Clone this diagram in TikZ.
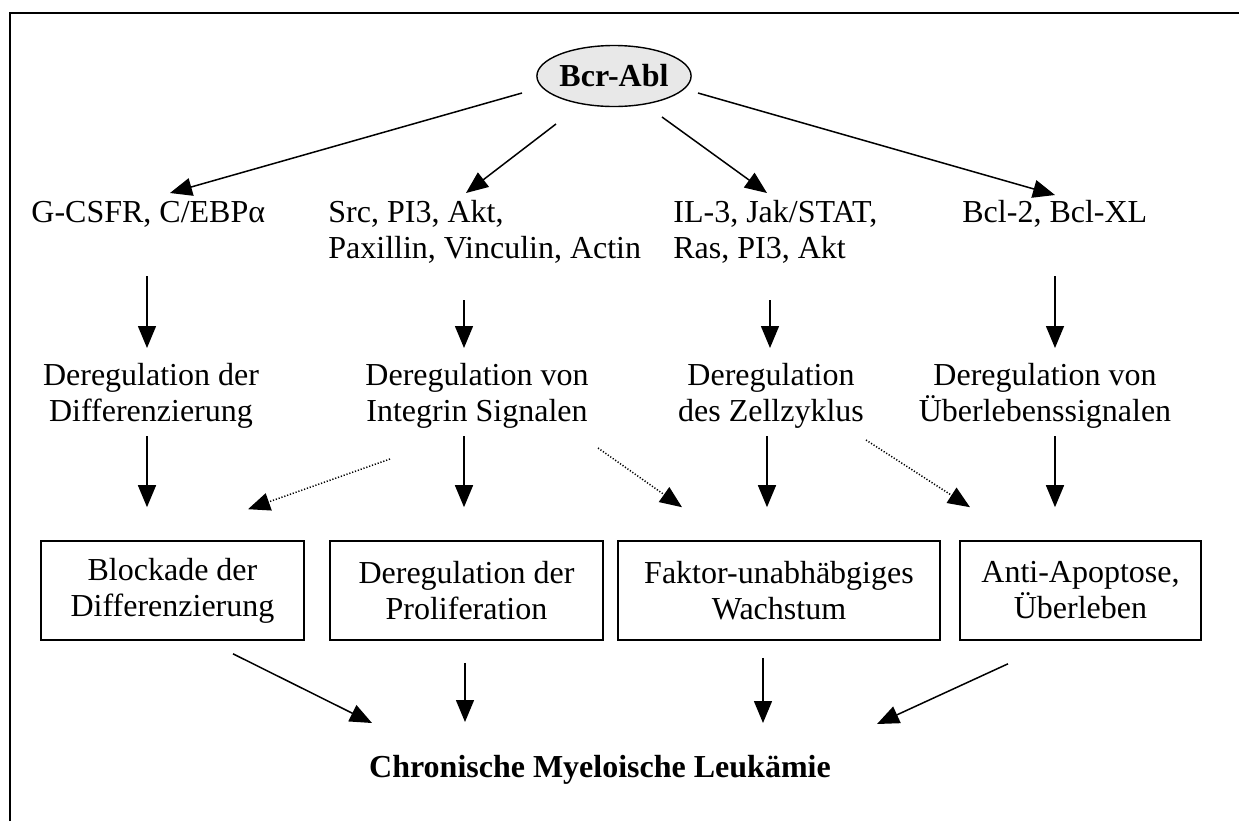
\documentclass[tikz,border=0pt]{standalone}
\usepackage{fontspec}
\setmainfont{Liberation Serif}
\usetikzlibrary{arrows.meta,shapes.geometric,shadows}
\tikzset{
  lbl/.style={font=\fontsize{16}{18}\selectfont, inner sep=0pt, align=center},
  lblL/.style={font=\fontsize{16}{18}\selectfont, inner sep=0pt, align=left, anchor=west},
  boxnode/.style={draw, fill=white, line width=0.8pt, inner sep=0pt, font=\fontsize{16}{18}\selectfont, align=center,
    general shadow={fill=black!55, shadow xshift=0.7pt, shadow yshift=-0.7pt}},
  bcrnode/.style={ellipse, draw, line width=0.7pt, fill=black!9, inner sep=0pt, minimum width=76pt, minimum height=30.5pt, font=\fontsize{16}{18}\selectfont\bfseries},
  arr/.style={line width=0.75pt, -{Triangle[length=11pt,width=9pt]}},
  dotarr/.style={line width=0.75pt, dash pattern=on 0.6pt off 0.9pt, -{Triangle[length=11pt,width=9pt]}},
  frameline/.style={line width=1pt}
}
\begin{document}
\begin{tikzpicture}[x=0.5pt,y=-0.5pt]
\useasboundingbox (0,0) rectangle (1239,821);
\draw[frameline] (10,821) -- (10,13) -- (1239,13);

% top node
\node[bcrnode] (bcr) at (614,76) {Bcr-Abl};

% row 1
\node[lbl, anchor=base west] (g1) at (31,222) {G-CSFR, C/EBPα};
\node[lblL] (g2) at (328,231.5) {Src, PI3, Akt,\\Paxillin, Vinculin, Actin};
\node[lblL] (g3) at (673,231.5) {IL-3, Jak/STAT,\\Ras, PI3, Akt};
\node[lbl, anchor=base west] (g4) at (962,222) {Bcl-2, Bcl-XL};

% row 2
\node[lbl] (d1) at (151,396) {Deregulation der\\Differenzierung};
\node[lbl] (d2) at (477,396) {Deregulation von\\Integrin Signalen};
\node[lbl] (d3) at (771,396) {Deregulation\\des Zellzyklus};
\node[lbl] (d4) at (1045,396) {Deregulation von\\Überlebenssignalen};

% boxes
\node[boxnode, minimum width=131.5pt, minimum height=49.5pt] (b1) at (172.5,590.5) {Blockade der\\Differenzierung};
\node[boxnode, minimum width=136.5pt, minimum height=49.5pt] (b2) at (466.5,590.5) {Deregulation der\\Proliferation};
\node[boxnode, minimum width=161pt, minimum height=49.5pt] (b3) at (779,590.5) {Faktor-unabhäbgiges\\Wachstum};
\node[boxnode, minimum width=120.5pt, minimum height=49.5pt] (b4) at (1080.5,590.5) {Anti-Apoptose,\\Überleben};

% final
\node[lbl, anchor=base, font=\fontsize{16}{18}\selectfont\bfseries] (fin) at (600,777) {Chronische Myeloische Leukämie};

% Bcr-Abl -> row 1
\draw[arr] ([shift={(-92,17)}]bcr.center) -- ([shift={(139,-29)}]g1.base west);
\draw[arr] ([shift={(-58,48)}]bcr.center) -- ([shift={(138,-38.5)}]g2.west);
\draw[arr] ([shift={(48,41)}]bcr.center) -- ([shift={(94,-38.5)}]g3.west);
\draw[arr] ([shift={(84,17)}]bcr.center) -- ([shift={(93,-27)}]g4.base west);

% row 1 -> row 2
\draw[arr] ([shift={(116,54)}]g1.base west) -- ([shift={(-4,-48)}]d1.center);
\draw[arr] ([shift={(136,68.5)}]g2.west) -- ([shift={(-13,-48)}]d2.center);
\draw[arr] ([shift={(97,68.5)}]g3.west) -- ([shift={(-1,-48)}]d3.center);
\draw[arr] ([shift={(93,54)}]g4.base west) -- ([shift={(10,-48)}]d4.center);

% row 2 -> boxes
\draw[arr] ([shift={(-4,40)}]d1.center) -- ([shift={(-25.5,-33)}]b1.north);
\draw[arr] ([shift={(-13,40)}]d2.center) -- ([shift={(-2.5,-33)}]b2.north);
\draw[arr] ([shift={(-4,40)}]d3.center) -- ([shift={(-12,-33)}]b3.north);
\draw[arr] ([shift={(10,40)}]d4.center) -- ([shift={(-25.5,-33)}]b4.north);

% dotted cross links
\draw[dotarr] ([shift={(-87,63)}]d2.center) -- ([shift={(75.5,-31)}]b1.north);
\draw[dotarr] ([shift={(121,52)}]d2.center) -- ([shift={(-97,-33)}]b3.north);
\draw[dotarr] ([shift={(95,44)}]d3.center) -- ([shift={(-110.5,-33)}]b4.north);

% boxes -> final
\draw[arr] ([shift={(60.5,13)}]b1.south) -- ([shift={(-228,-54)}]fin.base);
\draw[arr] ([shift={(-1.5,22)}]b2.south) -- ([shift={(-135,-55)}]fin.base);
\draw[arr] ([shift={(-16,17)}]b3.south) -- ([shift={(163,-54)}]fin.base);
\draw[arr] ([shift={(-72.5,23)}]b4.south) -- ([shift={(277,-53)}]fin.base);
\end{tikzpicture}
\end{document}
